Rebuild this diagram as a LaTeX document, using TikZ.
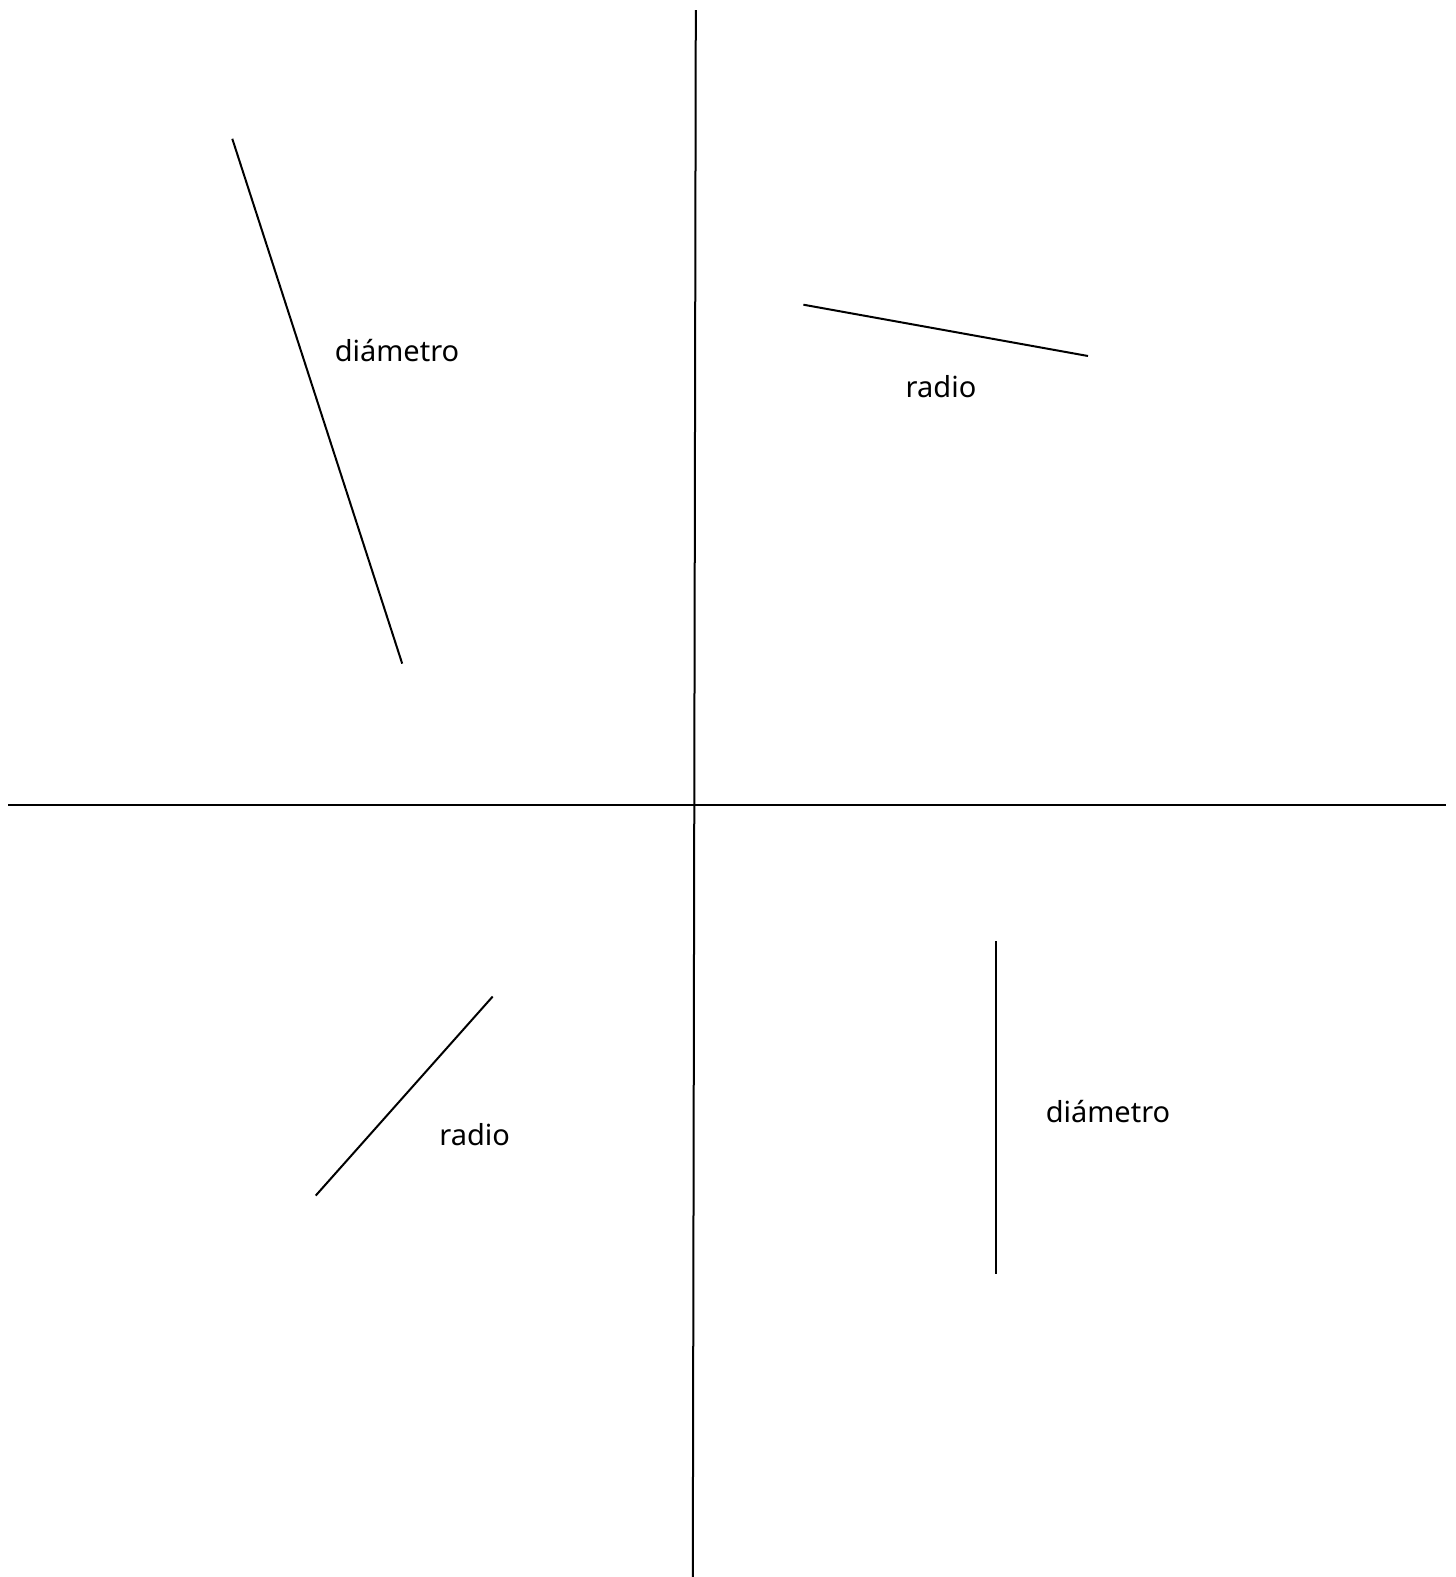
\documentclass[tikz,border=0pt]{standalone}
\usepackage{fontspec}
\setmainfont{Noto Sans}
\begin{document}
\begin{tikzpicture}[x=1pt,y=-1pt,
  seg/.style={line width=2pt,black},
  lbl/.style={font=\fontsize{29}{34}\selectfont,inner sep=0pt}]
\useasboundingbox[fill=white] (0,0) rectangle (1456,1577);
\coordinate (vt) at (695.8,10);
\coordinate (vb) at (692.8,1577);
\coordinate (hl) at (8,805.4);
\coordinate (hr) at (1446,805.4);
\draw[seg] (vt) -- (vb);
\draw[seg] (hl) -- (hr);
\coordinate (d1a) at (232.3,138.8);
\coordinate (d1b) at (402.2,663.6);
\draw[seg] (d1a) -- (d1b);
\coordinate (r1a) at (803.4,304.7);
\coordinate (r1b) at (1088,356);
\draw[seg] (r1a) -- (r1b);
\coordinate (r2a) at (492.7,996.5);
\coordinate (r2b) at (315.7,1195.6);
\draw[seg] (r2a) -- (r2b);
\coordinate (d2a) at (995.5,941.2);
\coordinate (d2b) at (995.5,1274);
\draw[seg] (d2a) -- (d2b);
\node[lbl] (t1) at (397,351) {diámetro};
\node[lbl] (t2) at (941,387) {radio};
\node[lbl] (t3) at (474.6,1135) {radio};
\node[lbl] (t4) at (1108,1112) {diámetro};
\end{tikzpicture}
\end{document}
